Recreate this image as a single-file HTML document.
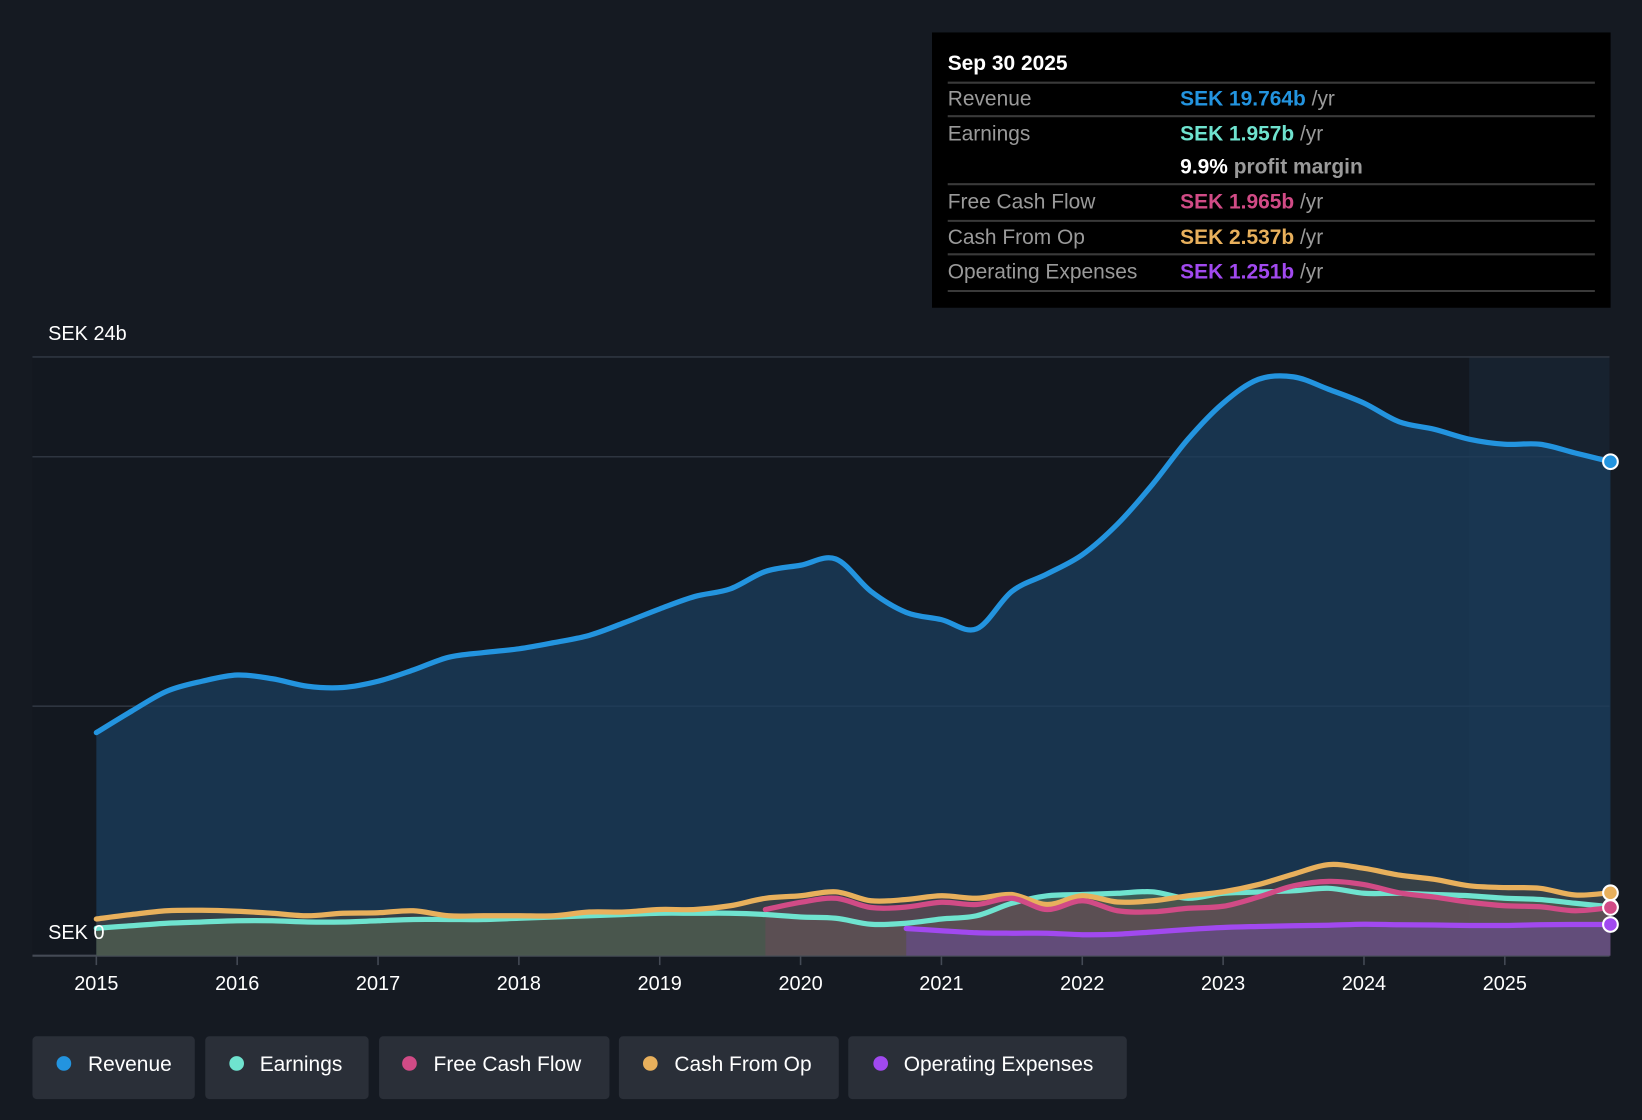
<!DOCTYPE html>
<html><head><meta charset="utf-8"><style>
html,body{margin:0;padding:0;background:#151a22;}
svg{display:block;font-family:"Liberation Sans",sans-serif;}
</style></head><body>
<svg id="chart" width="1642" height="1120" viewBox="0 0 1568 1070" preserveAspectRatio="none">
<rect x="0" y="0" width="1568" height="1070" fill="#151a22"/>
<rect x="31" y="341" width="1506" height="572" fill="#131820"/>
<rect x="1403" y="341" width="134" height="572" fill="#1a2a3a" opacity="0.6"/>
<g id="grid"></g>
<g id="areas"></g>
<g id="lines"></g>
<g id="xaxis"></g>
<text x="46" y="325" fill="#fff" font-size="19">SEK 24b</text>
<text x="46" y="897" fill="#fff" font-size="19">SEK 0</text>

<g>
<rect x="890" y="31" width="648" height="263" fill="#000"/>
<text x="905" y="67" fill="#fff" font-size="20" font-weight="bold">Sep 30 2025</text>
<g stroke="#3a3a3a" stroke-width="2">
<line x1="905" y1="79" x2="1523" y2="79"/><line x1="905" y1="111" x2="1523" y2="111"/>
<line x1="905" y1="176" x2="1523" y2="176"/><line x1="905" y1="211" x2="1523" y2="211"/>
<line x1="905" y1="243" x2="1523" y2="243"/><line x1="905" y1="278" x2="1523" y2="278"/>
</g>
<g font-size="20" fill="#9a9a9a">
<text x="905" y="101">Revenue</text><text x="905" y="134">Earnings</text>
<text x="905" y="199">Free Cash Flow</text><text x="905" y="233">Cash From Op</text>
<text x="905" y="266">Operating Expenses</text>
</g>
<g font-size="20">
<text x="1127" y="101"><tspan fill="#2394df" font-weight="bold">SEK 19.764b</tspan><tspan fill="#9a9a9a"> /yr</tspan></text>
<text x="1127" y="134"><tspan fill="#6fe3cf" font-weight="bold">SEK 1.957b</tspan><tspan fill="#9a9a9a"> /yr</tspan></text>
<text x="1127" y="166"><tspan fill="#fff" font-weight="bold">9.9%</tspan><tspan fill="#9a9a9a" font-weight="bold"> profit margin</tspan></text>
<text x="1127" y="199"><tspan fill="#d14b86" font-weight="bold">SEK 1.965b</tspan><tspan fill="#9a9a9a"> /yr</tspan></text>
<text x="1127" y="233"><tspan fill="#e8b05c" font-weight="bold">SEK 2.537b</tspan><tspan fill="#9a9a9a"> /yr</tspan></text>
<text x="1127" y="266"><tspan fill="#a149ef" font-weight="bold">SEK 1.251b</tspan><tspan fill="#9a9a9a"> /yr</tspan></text>
</g>
</g>

<g font-size="20">
<g><rect x="31" y="990" width="155" height="60" rx="4" fill="#2a2f38"/><circle cx="61" cy="1016" r="7" fill="#2394df"/><text x="84" y="1023" fill="#fff">Revenue</text></g>
<g><rect x="196" y="990" width="156" height="60" rx="4" fill="#2a2f38"/><circle cx="226" cy="1016" r="7" fill="#6fe3cf"/><text x="248" y="1023" fill="#fff">Earnings</text></g>
<g><rect x="362" y="990" width="220" height="60" rx="4" fill="#2a2f38"/><circle cx="391" cy="1016" r="7" fill="#d14b86"/><text x="414" y="1023" fill="#fff">Free Cash Flow</text></g>
<g><rect x="591" y="990" width="210" height="60" rx="4" fill="#2a2f38"/><circle cx="621" cy="1016" r="7" fill="#e8b05c"/><text x="644" y="1023" fill="#fff">Cash From Op</text></g>
<g><rect x="810" y="990" width="266" height="60" rx="4" fill="#2a2f38"/><circle cx="841" cy="1016" r="7" fill="#a149ef"/><text x="863" y="1023" fill="#fff">Operating Expenses</text></g>
</g>
</svg>
<script>
const years = [2015,2016,2017,2018,2019,2020,2021,2022,2023,2024,2025];
const gridValues = [0,10,20,24];
// quarterly dates start 2015.0
const revenue = [8.94,9.8,10.6,11.0,11.25,11.1,10.8,10.75,11.0,11.45,11.96,12.15,12.3,12.55,12.84,13.35,13.9,14.4,14.7,15.4,15.65,15.9,14.6,13.76,13.47,13.1,14.6,15.3,16.07,17.3,18.9,20.7,22.15,23.1,23.2,22.7,22.15,21.4,21.1,20.7,20.5,20.5,20.15,19.8];
const earnings = [1.1,1.2,1.3,1.35,1.4,1.4,1.35,1.35,1.4,1.45,1.45,1.45,1.5,1.55,1.6,1.65,1.7,1.7,1.7,1.65,1.55,1.5,1.26,1.3,1.47,1.6,2.1,2.4,2.45,2.5,2.56,2.3,2.5,2.55,2.6,2.7,2.5,2.5,2.45,2.4,2.3,2.25,2.1,1.96];
const fcfStart = 2019.75;
const fcf = [1.85,2.14,2.3,1.93,1.95,2.14,2.05,2.3,1.85,2.2,1.8,1.76,1.9,1.98,2.35,2.8,2.98,2.85,2.52,2.35,2.14,2.0,1.96,1.8,1.93];
const cfo = [1.47,1.65,1.8,1.82,1.78,1.7,1.6,1.7,1.72,1.8,1.6,1.6,1.6,1.6,1.75,1.75,1.85,1.85,2.0,2.3,2.4,2.56,2.2,2.25,2.4,2.3,2.45,2.05,2.4,2.15,2.2,2.4,2.56,2.85,3.27,3.65,3.5,3.23,3.06,2.8,2.73,2.7,2.43,2.52];
const opexStart = 2020.75;
const opex = [1.09,1.0,0.92,0.9,0.9,0.84,0.86,0.95,1.05,1.13,1.17,1.2,1.22,1.26,1.24,1.23,1.21,1.21,1.24,1.25,1.25];

const X0=92, PX_YR=134.5, Y0=913, PX_B=572/24;
const xs = t => X0 + (t-2015)*PX_YR;
const ys = v => Y0 - v*PX_B;
const NS='http://www.w3.org/2000/svg';
function mk(tag, attrs, parent){const e=document.createElementNS(NS,tag);for(const k in attrs)e.setAttribute(k,attrs[k]);parent.appendChild(e);return e;}
function pts(arr,start){return arr.map((v,i)=>[xs(start+i*0.25),ys(v)]);}
function smooth(p){let d='M'+p[0][0]+','+p[0][1];for(let i=0;i<p.length-1;i++){const a=p[i-1]||p[i],b=p[i],c=p[i+1],e=p[i+2]||c;d+=' C'+(b[0]+(c[0]-a[0])/6)+','+(b[1]+(c[1]-a[1])/6)+' '+(c[0]-(e[0]-b[0])/6)+','+(c[1]-(e[1]-b[1])/6)+' '+c[0]+','+c[1];}return d;}

const grid=document.getElementById('grid');
gridValues.forEach(v=>{const l=mk('line',{x1:31,x2:1537,y1:ys(v),y2:ys(v),stroke:v===0?'#444a55':'#2e3540','stroke-width':v===0?2:1.5},grid);

});

const series=[
 {name:'revenue',data:revenue,start:2015,color:'#2394df',fill:'#1b3e5e',op:0.75},
 {name:'earnings',data:earnings,start:2015,color:'#6fe3cf',fill:'#4a6e5c',op:0.7},
 {name:'cash-from-op',data:cfo,start:2015,color:'#e8b05c',fill:'#5a5040',op:0.45},
 {name:'free-cash-flow',data:fcf,start:fcfStart,color:'#d14b86',fill:'#6a4a5a',op:0.55},
 {name:'operating-expenses',data:opex,start:opexStart,color:'#a149ef',fill:'#6a4aa0',op:0.5}
];
const areas=document.getElementById('areas'),lines=document.getElementById('lines');
series.forEach(s=>{
 const p=pts(s.data,s.start);const d=smooth(p);
 const last=p[p.length-1];
 const a=mk('path',{d:d+' L'+last[0]+','+Y0+' L'+p[0][0]+','+Y0+' Z',fill:s.fill,opacity:s.op},areas);
 
 
 const l=mk('path',{d:d,fill:'none',stroke:s.color,'stroke-width':5,'stroke-linejoin':'round','stroke-linecap':'round'},lines);
 
 
 const c=mk('circle',{cx:last[0],cy:last[1],r:7,fill:s.color,stroke:'#fff','stroke-width':2},lines);
 
 
});
const xa=document.getElementById('xaxis');
years.forEach(y=>{
 const t=mk('line',{x1:xs(y),x2:xs(y),y1:913,y2:922,stroke:'#444a55','stroke-width':1.5},xa);
 
 
 const tx=mk('text',{x:xs(y),y:946,fill:'#fff','font-size':19,'text-anchor':'middle'},xa);
 tx.textContent=y;
 
 
});
</script>
</body></html>
